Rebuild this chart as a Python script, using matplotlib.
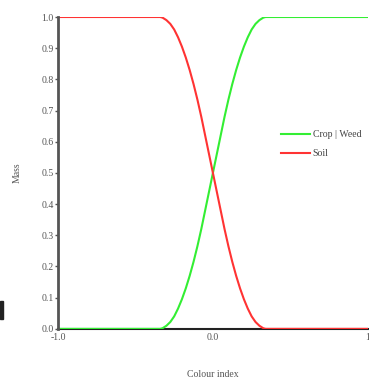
import matplotlib
matplotlib.use("Agg")
import matplotlib.pyplot as plt

# values
colour_index = [-1.0, -0.34, -0.325, -0.30, -0.275, -0.25, -0.225, -0.20, -0.175,
                -0.15, -0.125, -0.10, -0.075, -0.05, -0.025, 0.0,
                0.025, 0.05, 0.075, 0.10, 0.125, 0.15, 0.175, 0.20,
                0.225, 0.25, 0.275, 0.30, 0.325, 0.34, 1.0]
soil = [1.0, 1.0, 0.998, 0.99, 0.978, 0.96, 0.935, 0.905, 0.87,
        0.83, 0.785, 0.735, 0.68, 0.62, 0.56, 0.5,
        0.44, 0.38, 0.32, 0.265, 0.215, 0.17, 0.13, 0.095,
        0.065, 0.04, 0.022, 0.01, 0.002, 0.0, 0.0]
crop_weed = [0.0, 0.0, 0.002, 0.01, 0.022, 0.04, 0.065, 0.095, 0.13,
             0.17, 0.215, 0.265, 0.32, 0.38, 0.44, 0.5,
             0.56, 0.62, 0.68, 0.735, 0.785, 0.83, 0.87, 0.905,
             0.935, 0.96, 0.978, 0.99, 0.998, 1.0, 1.0]
yticks = [0.0, 0.1, 0.2, 0.3, 0.4, 0.5, 0.6, 0.7, 0.8, 0.9, 1.0]
xticks = [-1.0, 0.0, 1.0]
xticklabels = ["-1.0", "0.0", "1"]

plt.rcParams["font.family"] = ["Liberation Serif", "DejaVu Serif"]
fig = plt.figure(figsize=(3.69, 3.78), dpi=100)
ax = fig.add_axes([0.157, 0.13, 0.84, 0.825])

ax.plot(colour_index, crop_weed, color="#33ee33", lw=1.5, label="Crop | Weed")
ax.plot(colour_index, soil, color="#ff3333", lw=1.5, label="Soil")

ax.set_xlim(-1.0, 1.0)
ax.set_ylim(0.0, 1.0)
ax.set_xticks(xticks)
ax.set_xticklabels(xticklabels)
ax.set_yticks(yticks)
ax.set_yticklabels(["%.1f" % v for v in yticks])
ax.tick_params(axis="y", labelsize=7, colors="#555555", length=2, width=1, pad=1)
ax.tick_params(axis="x", labelsize=7, colors="#555555", length=0, pad=3)

for s in ["top", "right"]:
    ax.spines[s].set_visible(False)
ax.spines["left"].set_color("#555555")
ax.spines["left"].set_linewidth(2)
ax.spines["bottom"].set_color("#222222")
ax.spines["bottom"].set_linewidth(1.5)
ax.spines["bottom"].set_zorder(1)

ax.set_ylabel("Mass", fontsize=7, color="#555555", labelpad=14)
ax.set_xlabel("Colour index", fontsize=7, color="#555555", labelpad=20)

leg = ax.legend(loc="upper left", bbox_to_anchor=(0.69, 0.665), frameon=False,
                fontsize=7, handlelength=3.0, handletextpad=0.3, labelspacing=1.0)
for t in leg.get_texts():
    t.set_color("#444444")

# small dark mark at the far left edge of the reference
fig.patches.append(plt.Rectangle((0.0, 0.155), 0.008, 0.048, transform=fig.transFigure,
                                 color="#222222", figure=fig))

fig.savefig("out.png", dpi=100)
